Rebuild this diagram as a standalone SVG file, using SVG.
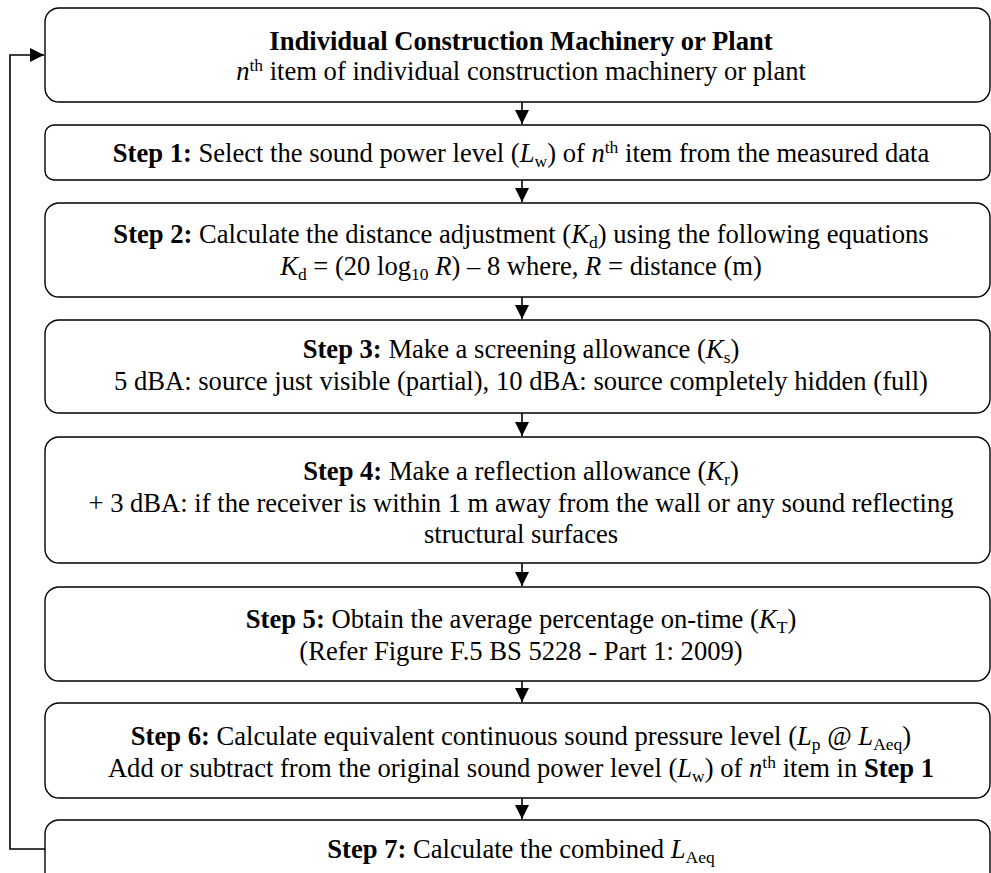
<svg xmlns="http://www.w3.org/2000/svg" width="991" height="873" viewBox="0 0 991 873">
<style>
.box{fill:#fff;stroke:#000;stroke-width:1.4}
.t{font-family:'Liberation Serif','Times New Roman','DejaVu Serif',serif;font-size:26.6px;fill:#000;text-anchor:middle}
.b{font-weight:bold}
.i{font-style:italic}
.s{font-size:17.5px}
.line{fill:none;stroke:#000;stroke-width:1.6}
.ah{fill:#000}
</style>
<defs>
<marker id="arr" viewBox="0 0 14 14" refX="14" refY="7" markerWidth="14" markerHeight="14" markerUnits="userSpaceOnUse" orient="auto">
<path d="M0,0 L14,7 L0,14 Z" class="ah"/>
</marker>
</defs>
<rect width="991" height="873" fill="#fff"/>
<g id="connectors">
<line class="line" x1="522" y1="102" x2="522" y2="124" marker-end="url(#arr)"/>
<line class="line" x1="522" y1="180" x2="522" y2="202" marker-end="url(#arr)"/>
<line class="line" x1="522" y1="297" x2="522" y2="319" marker-end="url(#arr)"/>
<line class="line" x1="522" y1="413" x2="522" y2="436" marker-end="url(#arr)"/>
<line class="line" x1="522" y1="563" x2="522" y2="586" marker-end="url(#arr)"/>
<line class="line" x1="522" y1="681" x2="522" y2="702" marker-end="url(#arr)"/>
<line class="line" x1="522" y1="798" x2="522" y2="819" marker-end="url(#arr)"/>
<path class="line" d="M45,849 H10 V55 H44" marker-end="url(#arr)"/>
</g>
<g id="n0">
<rect class="box" x="45" y="8" width="945" height="94" rx="14"/>
<text class="t" x="521" y="50"><tspan class="b">Individual Construction Machinery or Plant</tspan></text>
<text class="t" x="521" y="80"><tspan class="i">n</tspan><tspan class="s" dy="-9">th</tspan><tspan dy="9"> item of individual construction machinery or plant</tspan></text>
</g>
<g id="n1">
<rect class="box" x="45" y="125" width="945" height="55" rx="9"/>
<text class="t" x="521" y="162"><tspan class="b">Step 1:</tspan> Select the sound power level (<tspan class="i">L</tspan><tspan class="s" dy="5">w</tspan><tspan dy="-5">) of </tspan><tspan class="i">n</tspan><tspan class="s" dy="-9">th</tspan><tspan dy="9"> item from the measured data</tspan></text>
</g>
<g id="n2">
<rect class="box" x="45" y="203" width="945" height="94" rx="14"/>
<text class="t" x="521" y="243"><tspan class="b">Step 2:</tspan> Calculate the distance adjustment (<tspan class="i">K</tspan><tspan class="s" dy="5">d</tspan><tspan dy="-5">) using the following equations</tspan></text>
<text class="t" x="521" y="275"><tspan class="i">K</tspan><tspan class="s" dy="5">d</tspan><tspan dy="-5"> = (20 log</tspan><tspan class="s" dy="5">10</tspan><tspan dy="-5"> </tspan><tspan class="i">R</tspan>) – 8 where, <tspan class="i">R</tspan> = distance (m)</text>
</g>
<g id="n3">
<rect class="box" x="45" y="320" width="945" height="93" rx="14"/>
<text class="t" x="521" y="358"><tspan class="b">Step 3:</tspan> Make a screening allowance (<tspan class="i">K</tspan><tspan class="s" dy="5">s</tspan><tspan dy="-5">)</tspan></text>
<text class="t" x="521" y="390">5 dBA: source just visible (partial), 10 dBA: source completely hidden (full)</text>
</g>
<g id="n4">
<rect class="box" x="45" y="437" width="945" height="126" rx="14"/>
<text class="t" x="521" y="480"><tspan class="b">Step 4:</tspan> Make a reflection allowance (<tspan class="i">K</tspan><tspan class="s" dy="5">r</tspan><tspan dy="-5">)</tspan></text>
<text class="t" x="521" y="512">+ 3 dBA: if the receiver is within 1 m away from the wall or any sound reflecting</text>
<text class="t" x="521" y="543">structural surfaces</text>
</g>
<g id="n5">
<rect class="box" x="45" y="587" width="945" height="94" rx="14"/>
<text class="t" x="521" y="628"><tspan class="b">Step 5:</tspan> Obtain the average percentage on-time (<tspan class="i">K</tspan><tspan class="s" dy="5">T</tspan><tspan dy="-5">)</tspan></text>
<text class="t" x="521" y="660">(Refer Figure F.5 BS 5228 - Part 1: 2009)</text>
</g>
<g id="n6">
<rect class="box" x="45" y="703" width="945" height="95" rx="14"/>
<text class="t" x="521" y="745"><tspan class="b">Step 6:</tspan> Calculate equivalent continuous sound pressure level (<tspan class="i">L</tspan><tspan class="s" dy="5">p</tspan><tspan dy="-5"> @ </tspan><tspan class="i">L</tspan><tspan class="s" dy="5">Aeq</tspan><tspan dy="-5">)</tspan></text>
<text class="t" x="521" y="777">Add or subtract from the original sound power level (<tspan class="i">L</tspan><tspan class="s" dy="5">w</tspan><tspan dy="-5">) of </tspan><tspan class="i">n</tspan><tspan class="s" dy="-9">th</tspan><tspan dy="9"> item in </tspan><tspan class="b">Step 1</tspan></text>
</g>
<g id="n7">
<rect class="box" x="45" y="820" width="945" height="80" rx="14"/>
<text class="t" x="521" y="858"><tspan class="b">Step 7:</tspan> Calculate the combined <tspan class="i">L</tspan><tspan class="s" dy="5">Aeq</tspan></text>
</g>
</svg>
